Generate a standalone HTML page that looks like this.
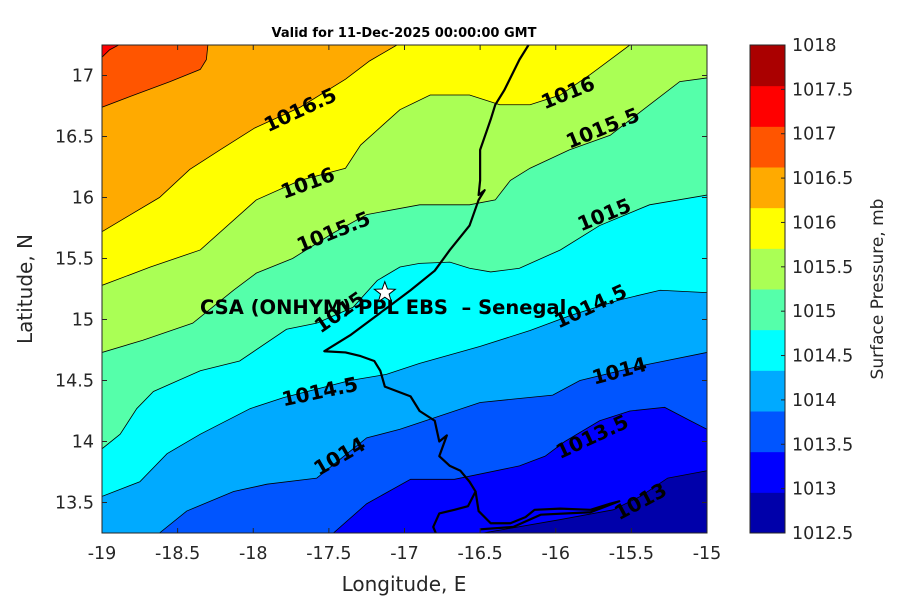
<!DOCTYPE html>
<html><head><meta charset="utf-8"><style>
body{margin:0;background:#fff;font-family:"Liberation Sans","DejaVu Sans",sans-serif}
svg text{font-family:"DejaVu Sans","Liberation Sans",sans-serif}
</style></head><body>
<svg id="chart" width="900" height="600" xmlns="http://www.w3.org/2000/svg"></svg>
<script>
const levels=[1013,1013.5,1014,1014.5,1015,1015.5,1016,1016.5,1017,1017.5];
const bandColors=['#0000aa','#0000ff','#0055ff','#00aaff','#00ffff','#55ffaa','#aaff55','#ffff00','#ffaa00','#ff5500','#ff0000','#aa0000'];
const c1013=[[-16.48,13.25],[-15.97,13.36],[-15.62,13.44],[-15.44,13.55],[-15.26,13.70],[-15,13.76]];
const c10135=[[-17.47,13.25],[-17.25,13.49],[-16.96,13.69],[-16.67,13.69],[-16.24,13.80],[-16.07,13.88],[-15.94,14.0],[-15.71,14.17],[-15.51,14.25],[-15.28,14.28],[-15.11,14.17],[-15,14.10]];
const c1014=[[-18.62,13.25],[-18.44,13.43],[-18.13,13.59],[-17.91,13.65],[-17.58,13.70],[-17.25,14.03],[-17.03,14.10],[-16.50,14.32],[-16.02,14.38],[-15.84,14.50],[-15.44,14.62],[-15,14.73]];
const c10145=[[-19,13.55],[-18.75,13.67],[-18.57,13.90],[-18.35,14.06],[-18.02,14.27],[-17.80,14.36],[-17.36,14.50],[-17.12,14.55],[-16.90,14.64],[-16.50,14.78],[-16.17,14.91],[-15.91,15.03],[-15.58,15.16],[-15.31,15.24],[-15,15.22]];
const c1015=[[-19,13.94],[-18.88,14.06],[-18.77,14.27],[-18.66,14.41],[-18.35,14.58],[-18.09,14.66],[-17.78,14.92],[-17.58,14.97],[-17.34,15.10],[-17.18,15.32],[-17.03,15.43],[-16.90,15.46],[-16.70,15.47],[-16.57,15.42],[-16.43,15.39],[-16.24,15.42],[-15.97,15.57],[-15.71,15.77],[-15.38,15.94],[-15,16.02]];
const c10155=[[-19,14.73],[-18.73,14.83],[-18.40,14.97],[-18.13,15.24],[-17.98,15.38],[-17.74,15.50],[-17.47,15.71],[-17.25,15.86],[-16.90,15.94],[-16.57,15.94],[-16.40,15.98],[-16.30,16.14],[-16.17,16.24],[-15.91,16.39],[-15.64,16.51],[-15.38,16.76],[-15.18,16.95],[-15,16.98]];
const c1016=[[-19,15.28],[-18.68,15.43],[-18.35,15.57],[-17.98,15.98],[-17.69,16.14],[-17.39,16.24],[-17.29,16.43],[-17.03,16.72],[-16.83,16.84],[-16.57,16.84],[-16.37,16.76],[-16.17,16.76],[-15.97,16.84],[-15.77,17.01],[-15.64,17.13],[-15.51,17.25]];
const c10165=[[-19,15.72],[-18.81,15.86],[-18.62,16.0],[-18.42,16.23],[-18.22,16.39],[-17.99,16.57],[-17.69,16.74],[-17.39,16.97],[-17.23,17.12],[-17.05,17.25]];
const c1017=[[-19,16.74],[-18.81,16.83],[-18.55,16.95],[-18.35,17.05],[-18.31,17.13],[-18.30,17.25]];
const c10175=[[-19,17.15],[-18.95,17.21],[-18.89,17.25]];
const contours=[c1013,c10135,c1014,c10145,c1015,c10155,c1016,c10165,c1017,c10175];
const coast1=[[-16.18,17.25],[-16.24,17.13],[-16.34,16.88],[-16.40,16.76],[-16.43,16.64],[-16.50,16.39],[-16.50,16.14],[-16.51,16.02],[-16.47,16.06],[-16.51,15.98],[-16.57,15.77],[-16.70,15.57],[-16.80,15.40],[-16.96,15.24],[-17.10,15.11],[-17.23,14.99],[-17.36,14.87],[-17.53,14.74],[-17.39,14.73],[-17.29,14.70],[-17.20,14.66],[-17.16,14.58],[-17.13,14.45],[-16.96,14.37],[-16.90,14.25],[-16.80,14.17],[-16.77,14.0],[-16.72,14.05],[-16.77,13.88],[-16.70,13.80],[-16.63,13.76],[-16.57,13.67],[-16.53,13.59],[-16.58,13.47],[-16.67,13.44],[-16.77,13.41],[-16.81,13.30],[-16.79,13.24]];
const coast2=[[-16.53,13.59],[-16.51,13.43],[-16.43,13.33],[-16.30,13.33],[-16.20,13.38],[-16.14,13.44],[-15.97,13.45],[-15.77,13.44],[-15.64,13.49],[-15.58,13.51],[-15.77,13.42],[-16.10,13.40],[-16.28,13.30],[-16.50,13.28]];
const labelText=['1016.5','1016','1016','1015.5','1015.5','1015','1015','1014.5','1014.5','1014','1014','1013.5','1013'];
const labelLon=[-17.69,-17.64,-15.92,-17.47,-15.69,-15.68,-17.43,-17.56,-15.77,-15.58,-17.43,-15.76,-15.44];
const labelLat=[16.72,16.12,16.86,15.72,16.57,15.86,15.06,14.41,15.11,14.58,13.88,14.04,13.51];
const labelRot=[-25,-20,-22,-22,-22,-22,-35,-12,-25,-15,-30,-25,-28];
const xTicks=[-19,-18.5,-18,-17.5,-17,-16.5,-16,-15.5,-15];
const yTicks=[13.5,14,14.5,15,15.5,16,16.5,17];
const cbTicks=[1012.5,1013,1013.5,1014,1014.5,1015,1015.5,1016,1016.5,1017,1017.5,1018];
const site=[-17.13,15.22];

const L=102,R=707,T=45,B=533,lonMin=-19,lonMax=-15,latMin=13.25,latMax=17.25;
const X=v=>L+(v-lonMin)/(lonMax-lonMin)*(R-L);
const Y=v=>B-(v-latMin)/(latMax-latMin)*(B-T);
const NS='http://www.w3.org/2000/svg';
const svg=document.getElementById('chart');
function mk(tag,attrs,parent){const e=document.createElementNS(NS,tag);for(const k in attrs)e.setAttribute(k,attrs[k]);(parent||svg).appendChild(e);return e;}
const defs=mk('defs',{});const cp=mk('clipPath',{id:'plotclip'},defs);mk('rect',{x:L,y:T,width:R-L,height:B-T},cp);
const plot=mk('g',{'clip-path':'url(#plotclip)'});


const bg=mk('rect',{x:L,y:T,width:R-L,height:B-T,fill:bandColors[0]},plot);


contours.forEach((c,i)=>{
  const pts=c.map(p=>[X(p[0]),Y(p[1])]);
  const last=c[c.length-1],first=c[0];
  if(last[0]>=lonMax-1e-6)pts.push([X(lonMax)+5,Y(latMax)-5]);
  pts.push([X(lonMin)-5,Y(latMax)-5]);
  if(first[1]<=latMin+1e-6)pts.push([X(lonMin)-5,Y(latMin)+5]);
  const f=mk('polygon',{points:pts.map(p=>p.join(',')).join(' '),fill:bandColors[i+1]},plot);
  
  
});
contours.forEach((c,i)=>{
  const l=mk('polyline',{points:c.map(p=>X(p[0])+','+Y(p[1])).join(' '),fill:'none',stroke:'#000','stroke-width':0.8},plot);
  
  
});
[coast1,coast2].forEach((c,i)=>{
  const l=mk('polyline',{points:c.map(p=>X(p[0])+','+Y(p[1])).join(' '),fill:'none',stroke:'#000','stroke-width':2.2,'stroke-linejoin':'round'},plot);
  
  
});
const ann=mk('text',{x:200,y:314,'font-size':19.5,'font-weight':'bold',fill:'#000',style:'white-space:pre'},plot);
ann.textContent='CSA (ONHYM) PPL EBS  – Senegal';


labelText.forEach((t,i)=>{
  const x=X(labelLon[i]),y=Y(labelLat[i]);
  const e=mk('text',{x:x,y:y+7,'text-anchor':'middle','font-size':20,'font-weight':'bold',fill:'#000',transform:`rotate(${labelRot[i]} ${x} ${y})`},plot);
  e.textContent=t;
  
  
});
// star
(function(){const cx=X(site[0]),cy=Y(site[1]);let p=[];for(let k=0;k<10;k++){const r=k%2?4.5:11,a=-Math.PI/2+k*Math.PI/5;p.push((cx+r*Math.cos(a)).toFixed(1)+','+(cy+r*Math.sin(a)).toFixed(1));}
const s=mk('polygon',{points:p.join(' '),fill:'#fff',stroke:'#000','stroke-width':1});

})();
// axes frame
const fr=mk('rect',{x:L,y:T,width:R-L,height:B-T,fill:'none',stroke:'#262626','stroke-width':1});


xTicks.forEach(v=>{const x=X(v);mk('line',{x1:x,x2:x,y1:B,y2:B-5,stroke:'#262626'});mk('line',{x1:x,x2:x,y1:T,y2:T+5,stroke:'#262626'});
  const t=mk('text',{x:x,y:B+26,'text-anchor':'middle','font-size':17.5,fill:'#262626'});t.textContent=v;
  
  });
yTicks.forEach(v=>{const y=Y(v);mk('line',{x1:L,x2:L+5,y1:y,y2:y,stroke:'#262626'});mk('line',{x1:R,x2:R-5,y1:y,y2:y,stroke:'#262626'});
  const t=mk('text',{x:L-8,y:y+6,'text-anchor':'end','font-size':17.5,fill:'#262626'});t.textContent=v;
  
  });
const xt=mk('text',{x:404,y:591,'text-anchor':'middle','font-size':20,fill:'#262626'});xt.textContent='Longitude, E';


const yt=mk('text',{x:32,y:289,'text-anchor':'middle','font-size':20,fill:'#262626',transform:'rotate(-90 32 289)'});yt.textContent='Latitude, N';


const ti=mk('text',{x:404,y:37,'text-anchor':'middle','font-size':13,'font-weight':'bold',fill:'#000'});ti.textContent='Valid for 11-Dec-2025 00:00:00 GMT';


// colorbar
const CL=750,CR=785,n=bandColors.length,bh=(B-T)/n;
bandColors.forEach((c,i)=>{const r=mk('rect',{x:CL,y:B-(i+1)*bh,width:CR-CL,height:bh+0.5,fill:c});
  
  });
mk('rect',{x:CL,y:T,width:CR-CL,height:B-T,fill:'none',stroke:'#262626'});
cbTicks.forEach((v,i)=>{const y=B-(v-cbTicks[0])/(cbTicks[cbTicks.length-1]-cbTicks[0])*(B-T);
  mk('line',{x1:CR,x2:CR-4,y1:y,y2:y,stroke:'#262626'});
  const t=mk('text',{x:CR+7,y:y+6,'font-size':17.5,fill:'#262626'});t.textContent=v;
  
  });
const ct=mk('text',{x:883,y:289,'text-anchor':'middle','font-size':17,fill:'#262626',transform:'rotate(-90 883 289)'});ct.textContent='Surface Pressure, mb';


</script>
</body></html>
